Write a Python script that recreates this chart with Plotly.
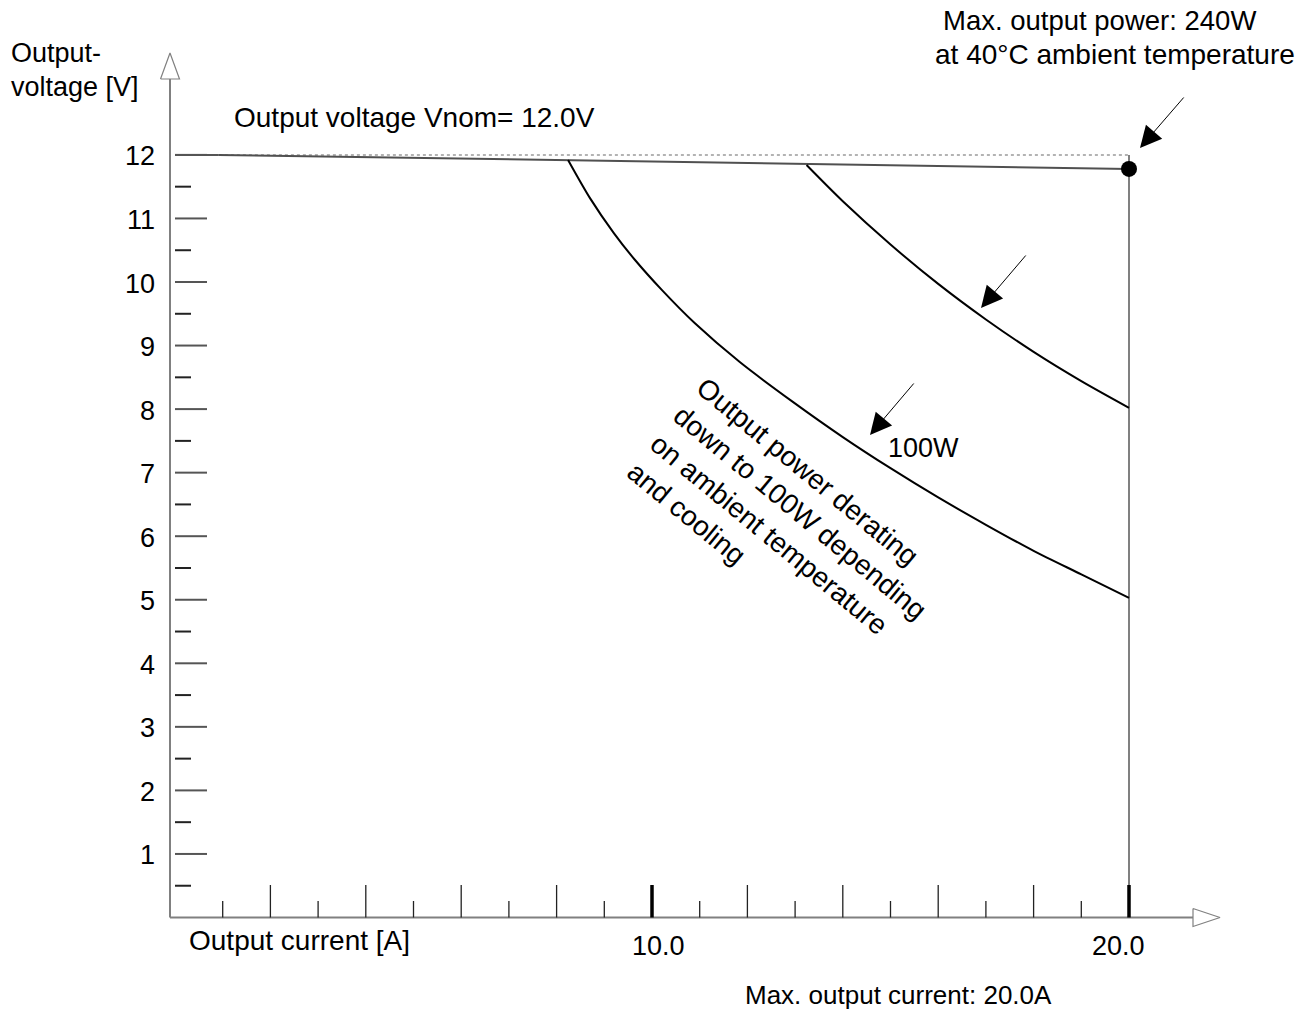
import plotly.graph_objects as go

# ---------------- data ----------------
y_major_ticks = [1, 2, 3, 4, 5, 6, 7, 8, 9, 10, 11, 12]
y_minor_ticks = [0.5, 1.5, 2.5, 3.5, 4.5, 5.5, 6.5, 7.5, 8.5, 9.5, 10.5, 11.5]
x_minor_ticks = [1, 3, 5, 7, 9, 11, 13, 15, 17, 19]
x_major_ticks = [2, 4, 6, 8, 12, 14, 16, 18]
x_bold_ticks = [10, 20]
x_bold_labels = ["10.0", "20.0"]

v_nom = 12.0
i_max = 20.0
droop_I = [0.92, 20.0]
droop_V = [12.0, 11.78]

curve_100W_I = [8.24, 8.7, 9.2, 9.64, 10.2, 10.9, 11.84, 12.96, 14.0, 15.0, 16.0, 17.0, 18.0, 19.0, 20.0]
curve_100W_V = [11.92, 11.32, 10.77, 10.35, 9.88, 9.35, 8.74, 8.11, 7.56, 7.07, 6.61, 6.18, 5.77, 5.40, 5.03]

curve_160W_I = [13.24, 14.0, 15.0, 16.0, 17.0, 18.0, 19.0, 20.0]
curve_160W_V = [11.84, 11.27, 10.59, 9.97, 9.41, 8.90, 8.44, 8.02]

max_point_I = [20.0]
max_point_V = [11.78]

derating_lines = ["Output power derating", "down to 100W depending",
                  "on ambient temperature", "and cooling"]

# ---------------- pixel <-> data mapping helpers ----------------
W, H = 1314, 1009
XPX, YPX = 47.7, 63.55        # pixels per A / per V
X0PX, Y0PX = 175.0, 917.5     # pixel position of I=0 / V=0


def X(px):
    return (px - X0PX) / XPX


def Y(py):
    return (Y0PX - py) / YPX


def dx(p):
    return p / XPX


def dy(p):
    return p / YPX


FONT = "Liberation Sans, Arial, Helvetica, sans-serif"
AXIS_GREY = "#808080"

fig = go.Figure()


def seg_trace(xs, ys, color, width, dash="solid"):
    fig.add_trace(go.Scatter(x=xs, y=ys, mode="lines",
                             line=dict(color=color, width=width, dash=dash),
                             hoverinfo="skip", showlegend=False))


# y axis line + arrow
ax_x = X(170)
seg_trace([ax_x, ax_x], [0, Y(79)], AXIS_GREY, 2)
fig.add_trace(go.Scatter(
    x=[ax_x - dx(9.5), ax_x + dx(9.5), ax_x, ax_x - dx(9.5)],
    y=[Y(79), Y(79), Y(53), Y(79)],
    mode="lines", fill="toself", fillcolor="white",
    line=dict(color=AXIS_GREY, width=1.2), hoverinfo="skip", showlegend=False))

# x axis line + arrow
seg_trace([ax_x, X(1193)], [0, 0], AXIS_GREY, 2)
fig.add_trace(go.Scatter(
    x=[X(1193), X(1193), X(1220), X(1193)],
    y=[dy(9), -dy(9), 0, dy(9)],
    mode="lines", fill="toself", fillcolor="white",
    line=dict(color=AXIS_GREY, width=1.2), hoverinfo="skip", showlegend=False))

# vertical limit at max current (drawn below the ticks)
seg_trace([i_max, i_max], [0, v_nom], AXIS_GREY, 2)


def tick_segments(vals, horizontal, length_px):
    xs, ys = [], []
    for v in vals:
        if horizontal:
            xs += [0, dx(length_px), None]
            ys += [v, v, None]
        else:
            xs += [v, v, None]
            ys += [0, dy(length_px), None]
    return xs, ys


# y ticks
xs, ys = tick_segments(y_major_ticks, True, 32)
seg_trace(xs, ys, "#555555", 2)
xs, ys = tick_segments(y_minor_ticks, True, 16)
seg_trace(xs, ys, "#222222", 2)

# x ticks
xs, ys = tick_segments(x_minor_ticks, False, 16.5)
seg_trace(xs, ys, "#222222", 1.3)
xs, ys = tick_segments(x_major_ticks, False, 32.5)
seg_trace(xs, ys, "#222222", 1.3)
xs, ys = tick_segments(x_bold_ticks, False, 32.5)
seg_trace(xs, ys, "#000000", 3.5)

# nominal voltage: solid start + dotted reference line
seg_trace([0, droop_I[0]], [v_nom, v_nom], "#555555", 2)
seg_trace([droop_I[0], i_max], [v_nom, v_nom], "#9a9a9a", 1.5, "dot")

# output voltage droop line
seg_trace(droop_I, droop_V, "#505050", 2)

# derating curves
fig.add_trace(go.Scatter(x=curve_100W_I, y=curve_100W_V, mode="lines",
                         line=dict(color="black", width=2, shape="spline", smoothing=0.8),
                         hoverinfo="skip", showlegend=False))
fig.add_trace(go.Scatter(x=curve_160W_I, y=curve_160W_V, mode="lines",
                         line=dict(color="black", width=2, shape="spline", smoothing=0.8),
                         hoverinfo="skip", showlegend=False))

# max power point
fig.add_trace(go.Scatter(x=max_point_I, y=max_point_V, mode="markers",
                         marker=dict(color="black", size=16),
                         hoverinfo="skip", showlegend=False))

annotations = []


def txt(text, x, y, xanchor="left", size=27, **kw):
    annotations.append(dict(text=text, x=x, y=y, xref="x", yref="y",
                            xanchor=xanchor, yanchor="middle", showarrow=False,
                            borderpad=0, font=dict(family=FONT, size=size, color="black"),
                            **kw))


# y tick labels
for v in y_major_ticks:
    txt(str(v), X(156), v - dy(1.5), xanchor="right")

# x bold tick labels
for v, lab, off in zip(x_bold_ticks, x_bold_labels, [6, -11]):
    txt(lab, v + dx(off), Y(946), xanchor="center")

# axis titles and notes
txt("Output-", X(10), Y(53))
txt("voltage [V]", X(10), Y(87))
txt("Output current [A]", X(188), Y(940), size=28)
txt("Output voltage Vnom= 12.0V", X(233), Y(117.5), size=28)
txt("Max. output current: 20.0A", X(744), Y(995), size=26)
txt("Max. output power: 240W", X(942), Y(20), size=27.5)
txt("at 40°C ambient temperature", X(934), Y(54), size=28)
txt("100W", X(887), Y(447.5))
annotations.append(dict(text="<br>".join(derating_lines), x=X(789), y=Y(526.5),
                        xref="x", yref="y", xanchor="center", yanchor="middle",
                        showarrow=False, align="left", textangle=39.5, borderpad=0,
                        font=dict(family=FONT, size=28, color="black")))

# arrows (tip, tail) in pixels
for (tx, ty), (sx, sy) in [((1140, 148), (1185, 96)),
                           ((981, 308), (1027, 254)),
                           ((870, 435), (915, 382))]:
    annotations.append(dict(text="", x=X(tx), y=Y(ty), ax=X(sx), ay=Y(sy),
                            xref="x", yref="y", axref="x", ayref="y",
                            showarrow=True, arrowhead=2, arrowsize=4.3, arrowwidth=1,
                            arrowcolor="black", standoff=0))

fig.update_layout(
    width=W, height=H, autosize=False,
    margin=dict(l=0, r=0, t=0, b=0, pad=0),
    paper_bgcolor="white", plot_bgcolor="white",
    xaxis=dict(range=[X(0), X(W)], visible=False, fixedrange=True),
    yaxis=dict(range=[Y(H), Y(0)], visible=False, fixedrange=True),
    showlegend=False,
    annotations=annotations,
)

fig.write_html("out.html", config={"displayModeBar": False},
               post_script="document.body.style.margin='0';document.body.style.overflow='hidden';")
